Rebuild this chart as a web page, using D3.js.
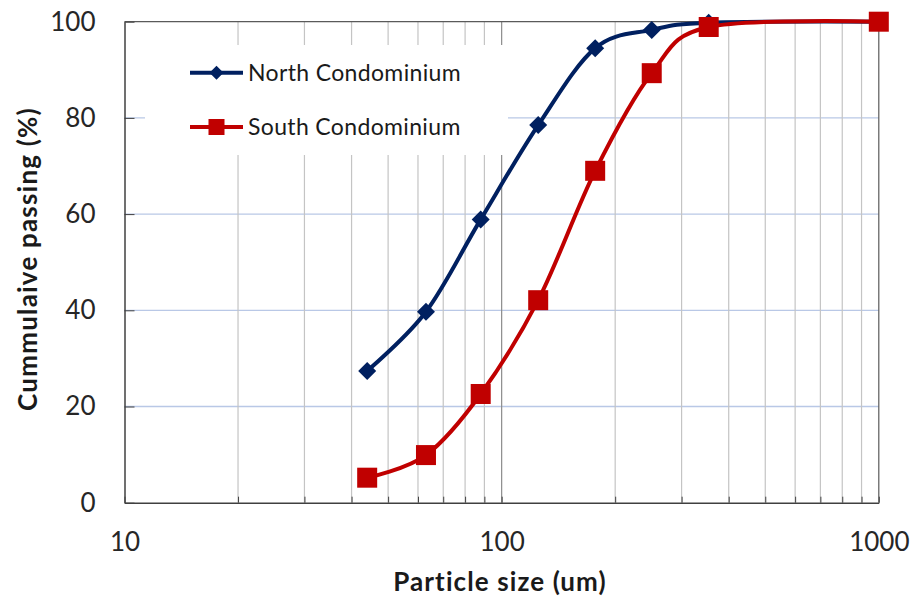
<!DOCTYPE html>
<html>
<head>
<meta charset="utf-8">
<script src="https://cdn.jsdelivr.net/npm/d3@7"></script>
<style>
  body { margin: 0; background: #fff; }
  svg { display: block; font-family: Lato, "Open Sans", sans-serif; }
</style>
</head>
<body>
<svg id="chart" width="911" height="600"></svg>
<script>
// sieve sizes (um) and cumulative passing (%)
var sizes = [44, 63, 88, 125, 177, 250, 354, 1000]
var north = [27.4, 39.7, 58.9, 78.5, 94.5, 98.3, 99.8, 100]
var south = [5.2, 9.9, 22.6, 42.1, 69.0, 89.3, 98.9, 100]
var seriesNames = ['North Condominium', 'South Condominium']
var xTickLabels = [10, 100, 1000]
var yTicks = [0, 20, 40, 60, 80, 100]

var svg = d3.select('#chart')
var plotLeft = 124.5, plotRight = 878.8, plotTop = 21.7, plotBottom = 502.7

var x = d3.scaleLog().domain([10, 1000]).range([plotLeft, plotRight])
var y = d3.scaleLinear().domain([0, 100]).range([plotBottom, plotTop])

// gridlines
var grid = svg.append('g')
grid.selectAll('line.h').data(yTicks.slice(1, -1)).enter().append('line')
  .attr('x1', plotLeft).attr('x2', plotRight)
  .attr('y1', function (d) { return y(d) }).attr('y2', function (d) { return y(d) })
  .attr('stroke', '#b9c8e6').attr('stroke-width', 1.3)
grid.selectAll('line.v').data(x.ticks().filter(function (d) { return d > 10 && d < 1000 }))
  .enter().append('line')
  .attr('x1', function (d) { return x(d) }).attr('x2', function (d) { return x(d) })
  .attr('y1', plotTop).attr('y2', plotBottom)
  .attr('stroke', function (d) { return d === 100 ? '#8c8c8c' : '#c4c4c4' })
  .attr('stroke-width', 1.2)

// legend background hides the grid beneath it
svg.append('rect').attr('x', 145).attr('y', 45).attr('width', 363).attr('height', 110)
  .attr('fill', '#fff')

// frame
svg.append('path')
  .attr('d', 'M' + plotLeft + ',' + plotTop + 'H' + plotRight + 'V' + plotBottom)
  .attr('fill', 'none').attr('stroke', '#5a5a5a').attr('stroke-width', 1.2)

// axes
var xAxis = svg.append('g').attr('transform', 'translate(0,' + plotBottom + ')')
  .call(d3.axisBottom(x).tickValues(x.ticks()).tickSizeInner(-6).tickSizeOuter(0)
    .tickFormat(function (d) { return xTickLabels.indexOf(d) >= 0 ? d : '' }))
xAxis.select('.domain').attr('stroke', '#404040').attr('stroke-width', 1.5)
xAxis.selectAll('.tick line').attr('stroke', '#404040')
xAxis.selectAll('.tick text').attr('y', 39).attr('dy', '0.35em')
  .attr('font-size', 26).attr('fill', '#262626').attr('font-family', 'Lato')

var yAxis = svg.append('g').attr('transform', 'translate(' + plotLeft + ',0)')
  .call(d3.axisLeft(y).tickValues(yTicks).tickSizeInner(-10).tickSizeOuter(0))
yAxis.select('.domain').attr('stroke', '#404040').attr('stroke-width', 1.5)
yAxis.selectAll('.tick line').attr('stroke', '#404040')
yAxis.selectAll('.tick text').attr('x', -29)
  .attr('font-size', 26).attr('fill', '#262626').attr('font-family', 'Lato')

// axis titles
svg.append('text').attr('x', 500).attr('y', 591)
  .attr('text-anchor', 'middle').attr('font-weight', 'bold').attr('font-size', 26)
  .attr('letter-spacing', 1.1).attr('fill', '#1a1a1a').text('Particle size (um)')
svg.append('text').attr('transform', 'translate(37,259) rotate(-90)')
  .attr('text-anchor', 'middle').attr('font-weight', 'bold').attr('font-size', 26)
  .attr('letter-spacing', 1.2).attr('fill', '#1a1a1a').text('Cummulaive passing (%)')

// series
var line = d3.line().curve(d3.curveCardinal.tension(0))
  .x(function (d) { return x(d[0]) }).y(function (d) { return y(d[1]) })

var series = [
  { name: seriesNames[0], values: d3.zip(sizes, north), color: '#002060', marker: 'diamond' }
, { name: seriesNames[1], values: d3.zip(sizes, south), color: '#c00000', marker: 'square' }
]

function drawMarker(g, kind, color, s) {
  if (kind === 'diamond') {
    g.append('path').attr('d', 'M0,' + (-s) + 'L' + s + ',0L0,' + s + 'L' + (-s) + ',0Z')
      .attr('fill', color)
  } else {
    g.append('rect').attr('x', -s).attr('y', -s).attr('width', 2 * s).attr('height', 2 * s)
      .attr('fill', color)
  }
}

series.forEach(function (s) {
  svg.append('path').datum(s.values).attr('d', line)
    .attr('fill', 'none').attr('stroke', s.color).attr('stroke-width', 4)
})
series.forEach(function (s) {
  s.values.forEach(function (v) {
    var g = svg.append('g').attr('transform', 'translate(' + x(v[0]) + ',' + y(v[1]) + ')')
    drawMarker(g, s.marker, s.color, s.marker === 'diamond' ? 9 : 10)
  })
})

// legend
var legend = svg.append('g')
series.forEach(function (s, i) {
  var ly = 72.7 + i * 54.3
  legend.append('line').attr('x1', 190).attr('x2', 243).attr('y1', ly).attr('y2', ly)
    .attr('stroke', s.color).attr('stroke-width', 4)
  var g = legend.append('g').attr('transform', 'translate(216.5,' + ly + ')')
  drawMarker(g, s.marker, s.color, s.marker === 'diamond' ? 7 : 8)
  legend.append('text').attr('x', 248).attr('y', ly).attr('dy', '0.35em')
    .attr('font-size', 23).attr('letter-spacing', 0.35).attr('fill', '#1a1a1a').text(s.name)
})
</script>
</body>
</html>
